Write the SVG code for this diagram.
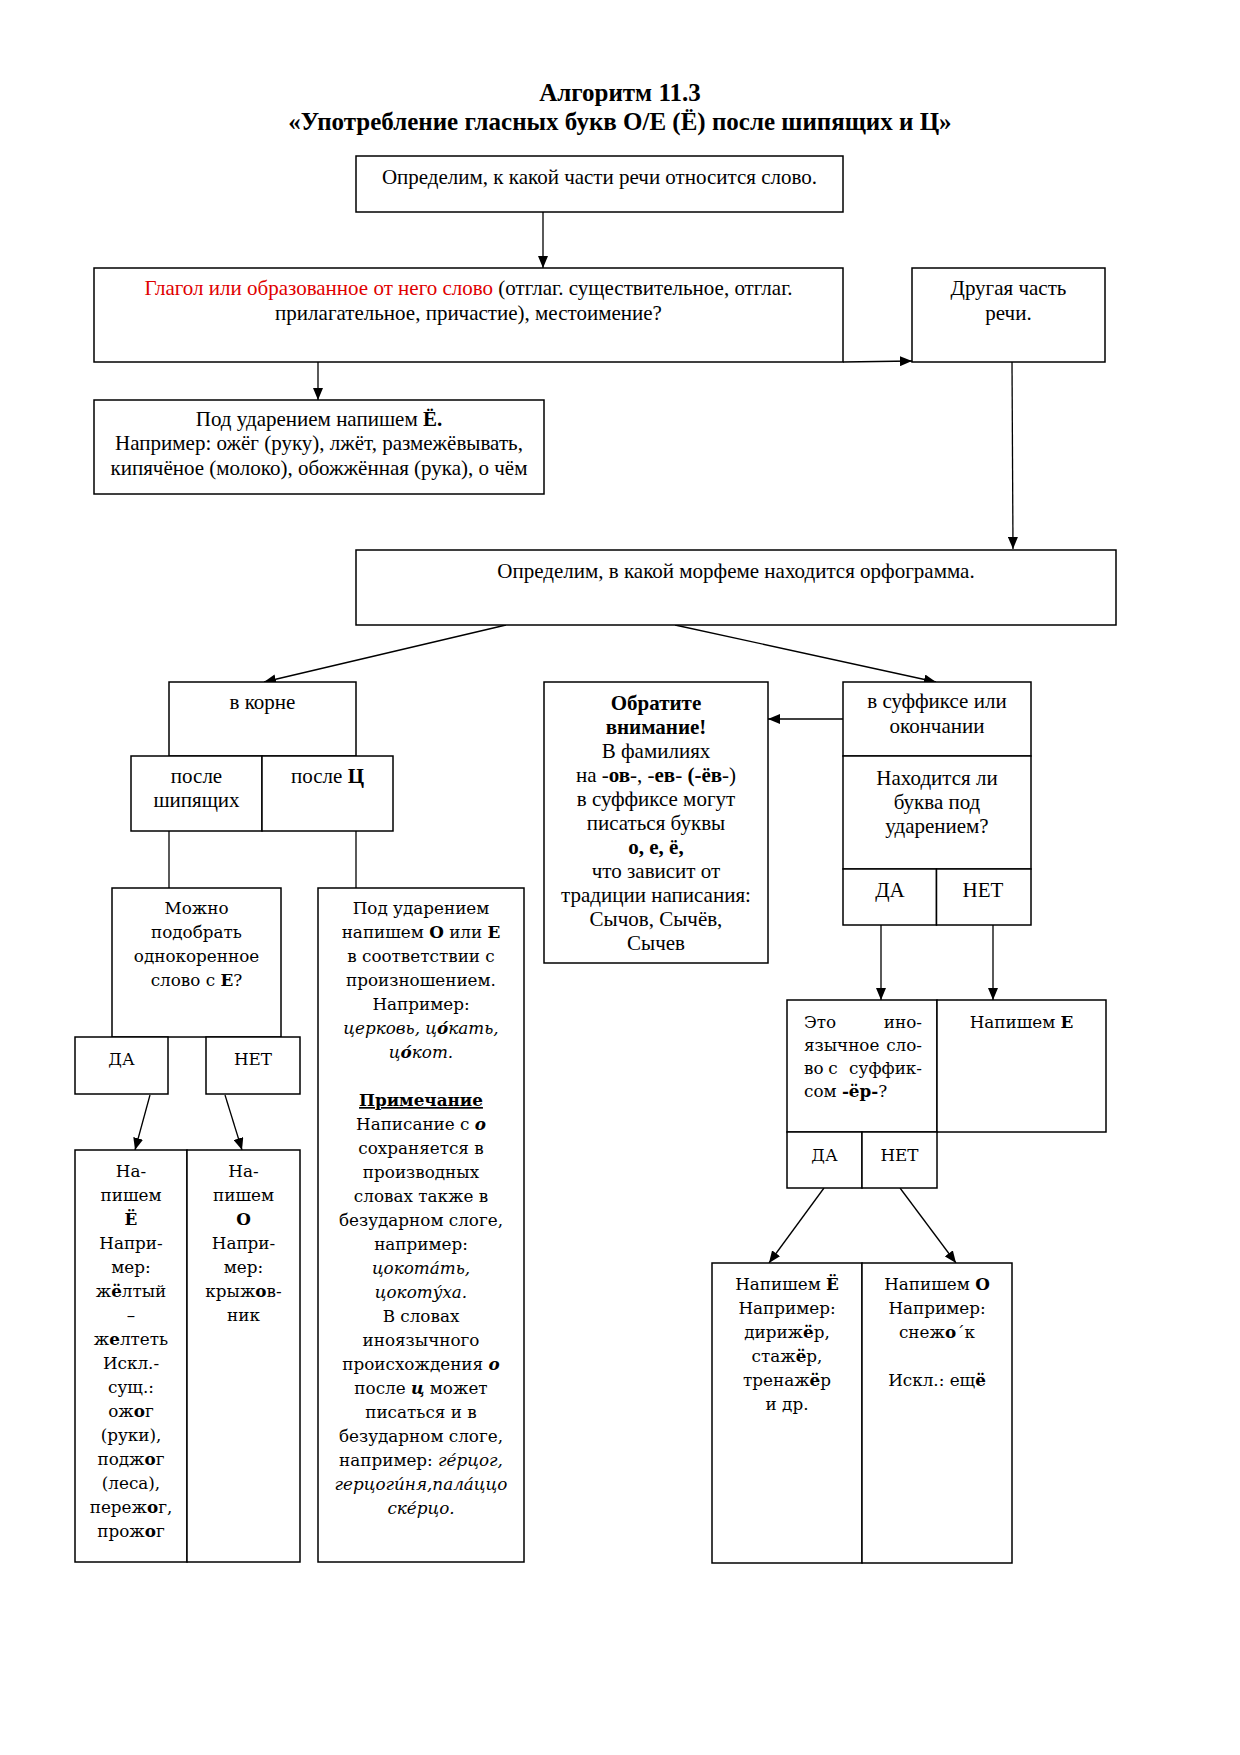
<svg xmlns="http://www.w3.org/2000/svg" width="1240" height="1755" viewBox="0 0 1240 1755">
<style>
.box{fill:#fff;stroke:#000;stroke-width:1.5}
.ln{fill:none;stroke:#000;stroke-width:1.3}
.t{font-family:"Liberation Serif","Times New Roman",serif;font-size:21px;text-anchor:middle;fill:#000}
.w{font-family:"DejaVu Serif",serif;font-size:16.8px;text-anchor:middle;fill:#000}
.s{text-anchor:start}
.e{text-anchor:end}
.h{font-family:"Liberation Serif","Times New Roman",serif;font-size:25px;font-weight:bold;text-anchor:middle;fill:#000}
.b{font-weight:bold}
.i{font-style:italic}
.u{text-decoration:underline}
.red{fill:#e00000}
</style>
<defs>
<marker id="ah" markerUnits="userSpaceOnUse" markerWidth="12" markerHeight="10" refX="12" refY="5" orient="auto">
<path d="M0,0 L12,5 L0,10 z" fill="#000"/>
</marker>
</defs>
<rect width="1240" height="1755" fill="#fff"/>
<g id="title">
<text class="h" x="620" y="101">Алгоритм 11.3</text>
<text class="h" x="620" y="130">«Употребление гласных букв О/Е (Ё) после шипящих и Ц»</text>
</g>
<g id="connectors">
<line class="ln" x1="543" y1="212" x2="543" y2="268" marker-end="url(#ah)"/>
<line class="ln" x1="843" y1="362" x2="912" y2="361" marker-end="url(#ah)"/>
<line class="ln" x1="318" y1="362" x2="318" y2="400" marker-end="url(#ah)"/>
<line class="ln" x1="1012" y1="362" x2="1013" y2="549" marker-end="url(#ah)"/>
<line class="ln" x1="506" y1="625" x2="264" y2="682" marker-end="url(#ah)"/>
<line class="ln" x1="675" y1="625" x2="936" y2="682" marker-end="url(#ah)"/>
<line class="ln" x1="843" y1="719" x2="768" y2="719" marker-end="url(#ah)"/>
<line class="ln" x1="169" y1="831" x2="169" y2="888"/>
<line class="ln" x1="356" y1="831" x2="356" y2="888"/>
<line class="ln" x1="881" y1="925" x2="881" y2="1000" marker-end="url(#ah)"/>
<line class="ln" x1="993" y1="925" x2="993" y2="1000" marker-end="url(#ah)"/>
<line class="ln" x1="150" y1="1095" x2="135" y2="1150" marker-end="url(#ah)"/>
<line class="ln" x1="225" y1="1095" x2="242" y2="1150" marker-end="url(#ah)"/>
<line class="ln" x1="824" y1="1188" x2="769" y2="1263" marker-end="url(#ah)"/>
<line class="ln" x1="900" y1="1188" x2="956" y2="1263" marker-end="url(#ah)"/>
</g>
<g id="n1">
<rect class="box" x="356" y="156" width="487" height="56"/>
<text class="t" x="599.5" y="184">Определим, к какой части речи относится слово.</text>
</g>
<g id="n2">
<rect class="box" x="94" y="268" width="749" height="94"/>
<text class="t" x="468.5" y="295"><tspan class="red">Глагол или образованное от него слово</tspan> (отглаг. существительное, отглаг.</text>
<text class="t" x="468.5" y="320">прилагательное, причастие), местоимение?</text>
</g>
<g id="n3">
<rect class="box" x="912" y="268" width="193" height="94"/>
<text class="t" x="1008.5" y="295">Другая часть</text>
<text class="t" x="1008.5" y="320">речи.</text>
</g>
<g id="n4">
<rect class="box" x="94" y="400" width="450" height="94"/>
<text class="t" x="319" y="426">Под ударением напишем <tspan class="b">Ё.</tspan></text>
<text class="t" x="319" y="450">Например: ожёг (руку), лжёт, размежёвывать,</text>
<text class="t" x="319" y="475">кипячёное (молоко), обожжённая (рука), о чём</text>
</g>
<g id="n5">
<rect class="box" x="356" y="550" width="760" height="75"/>
<text class="t" x="736" y="578">Определим, в какой морфеме находится орфограмма.</text>
</g>
<g id="n6">
<rect class="box" x="169" y="682" width="187" height="74"/>
<text class="t" x="262.5" y="709">в корне</text>
</g>
<g id="n7">
<rect class="box" x="131" y="756" width="131" height="75"/>
<text class="t" x="196.5" y="783">после</text>
<text class="t" x="196.5" y="807">шипящих</text>
</g>
<g id="n8">
<rect class="box" x="262" y="756" width="131" height="75"/>
<text class="t" x="327.5" y="783">после <tspan class="b">Ц</tspan></text>
</g>
<g id="n9">
<rect class="box" x="544" y="682" width="224" height="281"/>
<text class="t" x="656" y="710"><tspan class="b">Обратите</tspan></text>
<text class="t" x="656" y="734"><tspan class="b">внимание!</tspan></text>
<text class="t" x="656" y="758">В фамилиях</text>
<text class="t" x="656" y="782">на -<tspan class="b">ов</tspan>-, -<tspan class="b">ев</tspan>- <tspan class="b">(-ёв</tspan>-)</text>
<text class="t" x="656" y="806">в суффиксе могут</text>
<text class="t" x="656" y="830">писаться буквы</text>
<text class="t" x="656" y="854"><tspan class="b">о, е, ё,</tspan></text>
<text class="t" x="656" y="878">что зависит от</text>
<text class="t" x="656" y="902">традиции написания:</text>
<text class="t" x="656" y="926">Сычов, Сычёв,</text>
<text class="t" x="656" y="950">Сычев</text>
</g>
<g id="n10">
<rect class="box" x="843" y="682" width="188" height="74"/>
<text class="t" x="937" y="708">в суффиксе или</text>
<text class="t" x="937" y="733">окончании</text>
</g>
<g id="n11">
<rect class="box" x="843" y="756" width="188" height="113"/>
<text class="t" x="937" y="785">Находится ли</text>
<text class="t" x="937" y="809">буква под</text>
<text class="t" x="937" y="833">ударением?</text>
</g>
<g id="n12">
<rect class="box" x="843" y="869" width="93.5" height="56"/>
<text class="t" x="890" y="897">ДА</text>
</g>
<g id="n13">
<rect class="box" x="936.5" y="869" width="94.5" height="56"/>
<text class="t" x="983" y="897">НЕТ</text>
</g>
<g id="n14">
<rect class="box" x="112" y="888" width="169" height="149"/>
<text class="w" x="196.5" y="914">Можно</text>
<text class="w" x="196.5" y="938">подобрать</text>
<text class="w" x="196.5" y="962">однокоренное</text>
<text class="w" x="196.5" y="986">слово с <tspan class="b">Е</tspan>?</text>
</g>
<g id="n15">
<rect class="box" x="75" y="1037" width="93" height="57"/>
<text class="w" x="121.5" y="1065">ДА</text>
</g>
<g id="n16">
<rect class="box" x="206" y="1037" width="94" height="57"/>
<text class="w" x="253" y="1065">НЕТ</text>
</g>
<g id="n17">
<rect class="box" x="75" y="1150" width="112" height="412"/>
<text class="w" x="131" y="1177">На-</text>
<text class="w" x="131" y="1201">пишем</text>
<text class="w b" x="131" y="1225">Ё</text>
<text class="w" x="131" y="1249">Напри-</text>
<text class="w" x="131" y="1273">мер:</text>
<text class="w" x="131" y="1297">ж<tspan class="b">ё</tspan>лтый</text>
<text class="w" x="131" y="1321">–</text>
<text class="w" x="131" y="1345">ж<tspan class="b">е</tspan>лтеть</text>
<text class="w" x="131" y="1369">Искл.-</text>
<text class="w" x="131" y="1393">сущ.:</text>
<text class="w" x="131" y="1417">ож<tspan class="b">о</tspan>г</text>
<text class="w" x="131" y="1441">(руки),</text>
<text class="w" x="131" y="1465">подж<tspan class="b">о</tspan>г</text>
<text class="w" x="131" y="1489">(леса),</text>
<text class="w" x="131" y="1513">переж<tspan class="b">о</tspan>г,</text>
<text class="w" x="131" y="1537">прож<tspan class="b">о</tspan>г</text>
</g>
<g id="n18">
<rect class="box" x="187" y="1150" width="113" height="412"/>
<text class="w" x="243.5" y="1177">На-</text>
<text class="w" x="243.5" y="1201">пишем</text>
<text class="w b" x="243.5" y="1225">О</text>
<text class="w" x="243.5" y="1249">Напри-</text>
<text class="w" x="243.5" y="1273">мер:</text>
<text class="w" x="243.5" y="1297">крыж<tspan class="b">о</tspan>в-</text>
<text class="w" x="243.5" y="1321">ник</text>
</g>
<g id="n19">
<rect class="box" x="318" y="888" width="206" height="674"/>
<text class="w" x="421" y="914">Под ударением</text>
<text class="w" x="421" y="938">напишем <tspan class="b">О</tspan> или <tspan class="b">Е</tspan></text>
<text class="w" x="421" y="962">в соответствии с</text>
<text class="w" x="421" y="986">произношением.</text>
<text class="w" x="421" y="1010">Например:</text>
<text class="w i" x="421" y="1034">церковь, ц<tspan class="b">о́</tspan>кать,</text>
<text class="w i" x="421" y="1058">ц<tspan class="b">о́</tspan>кот.</text>
<text class="w b u" x="421" y="1106">Примечание</text>
<text class="w" x="421" y="1130">Написание с <tspan class="b i">о</tspan></text>
<text class="w" x="421" y="1154">сохраняется в</text>
<text class="w" x="421" y="1178">производных</text>
<text class="w" x="421" y="1202">словах также в</text>
<text class="w" x="421" y="1226">безударном слоге,</text>
<text class="w" x="421" y="1250">например:</text>
<text class="w i" x="421" y="1274">цокота́ть,</text>
<text class="w i" x="421" y="1298">цокоту́ха.</text>
<text class="w" x="421" y="1322">В словах</text>
<text class="w" x="421" y="1346">иноязычного</text>
<text class="w" x="421" y="1370">происхождения <tspan class="b i">о</tspan></text>
<text class="w" x="421" y="1394">после <tspan class="b i">ц</tspan> может</text>
<text class="w" x="421" y="1418">писаться и в</text>
<text class="w" x="421" y="1442">безударном слоге,</text>
<text class="w" x="421" y="1466">например: <tspan class="i">ге́рцог,</tspan></text>
<text class="w i" x="421" y="1490">герцоги́ня,пала́ццо</text>
<text class="w i" x="421" y="1514">ске́рцо.</text>
</g>
<g id="n20">
<rect class="box" x="787" y="1000" width="150" height="132"/>
<text class="w s" x="804" y="1028">Это</text>
<text class="w e" x="922" y="1028">ино-</text>
<text class="w s" x="804" y="1051">язычное</text>
<text class="w e" x="922" y="1051">сло-</text>
<text class="w s" x="804" y="1074">во</text>
<text class="w" x="833" y="1074">с</text>
<text class="w e" x="922" y="1074">суффик-</text>
<text class="w s" x="804" y="1097">сом <tspan class="b">-ёр-</tspan>?</text>
</g>
<g id="n21">
<rect class="box" x="937" y="1000" width="169" height="132"/>
<text class="w" x="1021.5" y="1028">Напишем <tspan class="b">Е</tspan></text>
</g>
<g id="n22">
<rect class="box" x="787" y="1132" width="75" height="56"/>
<text class="w" x="824.5" y="1161">ДА</text>
</g>
<g id="n23">
<rect class="box" x="862" y="1132" width="75" height="56"/>
<text class="w" x="899.5" y="1161">НЕТ</text>
</g>
<g id="n24">
<rect class="box" x="712" y="1263" width="150" height="300"/>
<text class="w" x="787" y="1290">Напишем <tspan class="b">Ё</tspan></text>
<text class="w" x="787" y="1314">Например:</text>
<text class="w" x="787" y="1338">дириж<tspan class="b">ё</tspan>р,</text>
<text class="w" x="787" y="1362">стаж<tspan class="b">ё</tspan>р,</text>
<text class="w" x="787" y="1386">тренаж<tspan class="b">ё</tspan>р</text>
<text class="w" x="787" y="1410">и др.</text>
</g>
<g id="n25">
<rect class="box" x="862" y="1263" width="150" height="300"/>
<text class="w" x="937" y="1290">Напишем <tspan class="b">О</tspan></text>
<text class="w" x="937" y="1314">Например:</text>
<text class="w" x="937" y="1338">снеж<tspan class="b">о</tspan>´к</text>
<text class="w" x="937" y="1386">Искл.: ещ<tspan class="b">ё</tspan></text>
</g>
</svg>
